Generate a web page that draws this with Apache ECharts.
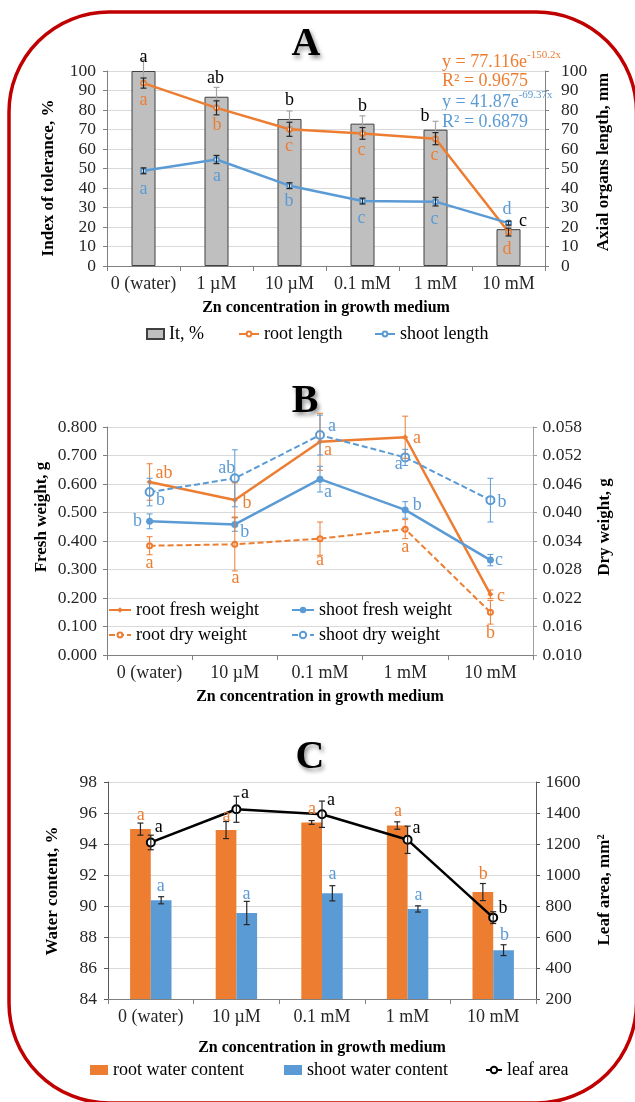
<!DOCTYPE html>
<html><head><meta charset="utf-8">
<script src="https://cdn.jsdelivr.net/npm/echarts@6/dist/echarts.min.js"></script>
<style>html,body{margin:0;padding:0;background:#fff}#c{width:635px;height:1102px}</style>
</head><body><div id="c"></div>
<script>
// ---------- Panel A ----------
const catsA = ['0 (water)', '1 µM', '10 µM', '0.1 mM', '1 mM', '10 mM'];
const itValues = [100, 86.8, 75.4, 73.0, 69.9, 18.9];
const itErr = [5.8, 4.8, 4.1, 4.0, 4.3, 1.5];
const rootLength = [93.8, 81.1, 70.1, 68.0, 65.3, 17.4];
const rootLengthErr = [2.6, 3.6, 3.6, 3.0, 3.1, 2.0];
const shootLength = [48.8, 54.6, 41.2, 33.3, 33.0, 22.0];
const shootLengthErr = [1.5, 2.1, 1.5, 1.5, 2.2, 1.0];
const itLetters = ['a', 'ab', 'b', 'b', 'b', 'c'];
const rootLengthLetters = ['a', 'b', 'c', 'c', 'c', 'd'];
const shootLengthLetters = ['a', 'a', 'b', 'c', 'c', 'd'];
const axisA = {min: 0, max: 100, interval: 10};
const axisA2 = {min: 0, max: 100, interval: 10};

// ---------- Panel B ----------
const catsB = ['0 (water)', '10 µM', '0.1 mM', '1 mM', '10 mM'];
const rootFresh = [0.607, 0.544, 0.748, 0.764, 0.213];
const rootFreshErr = [0.064, 0.06, 0.10, 0.074, 0.015];
const shootFresh = [0.469, 0.458, 0.617, 0.509, 0.333];
const shootFreshErr = [0.026, 0.024, 0.045, 0.029, 0.02];
const rootDry = [0.0330, 0.0333, 0.0345, 0.0365, 0.0190];
const rootDryErr = [0.0019, 0.0056, 0.0035, 0.0020, 0.0025];
const shootDry = [0.0443, 0.0472, 0.0563, 0.0516, 0.0426];
const shootDryErr = [0.0029, 0.0060, 0.0042, 0.0017, 0.0046];
const rootFreshLetters = ['ab', 'b', 'a', 'a', 'c'];
const shootFreshLetters = ['b', 'b', 'a', 'b', 'c'];
const rootDryLetters = ['a', 'a', 'a', 'a', 'b'];
const shootDryLetters = ['b', 'ab', 'a', 'a', 'b'];
const axisB = {min: 0, max: 0.8, interval: 0.1};
const axisB2 = {min: 0.010, max: 0.058, interval: 0.006};

// ---------- Panel C ----------
const catsC = ['0 (water)', '10 µM', '0.1 mM', '1 mM', '10 mM'];
const rootWater = [94.96, 94.9, 95.39, 95.19, 90.9];
const rootWaterErr = [0.39, 0.55, 0.12, 0.24, 0.55];
const shootWater = [90.37, 89.55, 90.82, 89.81, 87.15];
const shootWaterErr = [0.23, 0.75, 0.49, 0.2, 0.35];
const leafArea = [1210, 1424, 1392, 1227, 725];
const leafAreaErr = [47, 84, 85, 88, 38];
const rootWaterLetters = ['a', 'a', 'a', 'a', 'b'];
const shootWaterLetters = ['a', 'a', 'a', 'a', 'b'];
const leafLetters = ['a', 'a', 'a', 'a', 'b'];
const axisC = {min: 84, max: 98, interval: 2};
const axisC2 = {min: 200, max: 1600, interval: 200};

// ---------- layout / style (pixel offsets of letters from their data point) ----------
const offIt = [[0,-14],[-1,-18],[0,-19],[0,-17],[-10.5,-13],[14.5,-8]];
const offRootLen = [[0,17],[0.5,17],[-0.5,17],[-1,17],[-1,17],[-1.5,17]];
const offShootLen = [[0,18],[0.5,17],[-0.5,16],[-1,17.5],[-1,17.5],[-1.5,-14]];
const offRootFresh = [[14.4,-9],[12.2,3],[8,8],[11.8,1],[10.6,2]];
const offShootFresh = [[-12,0],[10,7.5],[8,13.5],[12,-5],[8.6,0]];
const offRootDry = [[0,17.5],[0.8,33.5],[0,22],[0,18],[0,21]];
const offShootDry = [[11,8.5],[-8,-10],[12,-9],[-6.4,7],[11.6,2]];
const offRootWater = [[-10,-13.5],[-10,-14],[-10,-13.5],[-9.5,-14],[-10,-18]];
const offShootWater = [[10,-13.5],[10,-19],[10.5,-19],[11,-14],[11.4,-15]];
const offLeaf = [[8,-15.5],[8.6,-16.5],[8.9,-14],[8.8,-12],[9.7,-9]];

const FONT = '"Liberation Serif", "Times New Roman", serif';
const ORANGE = '#ED7D31', BLUE = '#5B9BD5';
const AXC = '#808080';

function catAxis(gridIndex, data, nameGap) {
  return {
    type: 'category', gridIndex, data, boundaryGap: true,
    axisLine: {lineStyle: {color: AXC, width: 1}},
    axisTick: {show: true, length: 5, interval: 0, lineStyle: {color: AXC}},
    axisLabel: {color: '#262626', fontFamily: FONT, fontSize: 18, margin: 9, interval: 0},
    name: 'Zn concentration in growth medium', nameLocation: 'middle', nameGap,
    nameTextStyle: {fontFamily: FONT, fontSize: 16, fontWeight: 'bold', color: '#000'}
  };
}
function valAxis(gridIndex, rng, position, margin, digits, split, color) {
  return {
    type: 'value', gridIndex, min: rng.min, max: rng.max, interval: rng.interval, position,
    axisLine: {show: true, lineStyle: {color: color || AXC}},
    axisTick: {show: true, length: 4, lineStyle: {color: color || AXC}},
    axisLabel: {color: '#262626', fontFamily: FONT, fontSize: 17.5, margin,
      formatter: v => v.toFixed(digits)},
    splitLine: {show: split, lineStyle: {color: '#D9D9D9', width: 1}}
  };
}
function errSeries(xi, yi, vals, errs, color, dx, cap, lw) {
  return {
    type: 'custom', xAxisIndex: xi, yAxisIndex: yi, z: 6, silent: true,
    data: vals.map((v, i) => [i, v, errs[i]]),
    renderItem: (params, api) => {
      const i = api.value(0), v = api.value(1), e = api.value(2);
      const t = api.coord([i, v + e]), b = api.coord([i, v - e]);
      const x = t[0] + dx;
      const st = {stroke: color, lineWidth: lw};
      return {type: 'group', children: [
        {type: 'line', shape: {x1: x, y1: t[1], x2: x, y2: b[1]}, style: st},
        {type: 'line', shape: {x1: x - cap, y1: t[1], x2: x + cap, y2: t[1]}, style: st},
        {type: 'line', shape: {x1: x - cap, y1: b[1], x2: x + cap, y2: b[1]}, style: st}
      ]};
    }
  };
}
function letterSeries(xi, yi, vals, letters, offs, color) {
  return {
    type: 'custom', xAxisIndex: xi, yAxisIndex: yi, z: 7, silent: true,
    data: vals.map((v, i) => [i, v]),
    renderItem: (params, api) => {
      const p = api.coord([api.value(0), api.value(1)]);
      const o = offs[params.dataIndex];
      return {type: 'text', x: p[0] + o[0], y: p[1] + o[1],
        style: {text: letters[params.dataIndex], fill: color, fontFamily: FONT, fontSize: 18,
          align: 'center', verticalAlign: 'middle'}};
    }
  };
}
function leg(name, left, top, w, h, icon) {
  const l = {data: [name], left, top, padding: 0, itemWidth: w, itemHeight: h, selectedMode: false,
    textStyle: {fontFamily: FONT, fontSize: 18, color: '#000'}};
  if (icon) l.icon = icon;
  return l;
}
function vtext(text, x, y) {
  return {type: 'text', x, y, rotation: Math.PI / 2,
    style: {text, fontFamily: FONT, fontSize: 17, fontWeight: 'bold', fill: '#000',
      align: 'center', verticalAlign: 'middle'}};
}
function title(text, x, y) {
  return {type: 'text', x, y, style: {text, fontFamily: FONT, fontSize: 40, fontWeight: 'bold', fill: '#000',
    align: 'center', verticalAlign: 'middle', textShadowColor: 'rgba(0,0,0,0.45)', textShadowBlur: 4,
    textShadowOffsetX: 2, textShadowOffsetY: 3}};
}
function eq(main, sup, x, y, color) {
  return {type: 'text', x, y, style: {
    text: sup ? '{m|' + main + '}{s|' + sup + '}' : '{m|' + main + '}',
    verticalAlign: 'middle', align: 'left',
    rich: {
      m: {fontFamily: FONT, fontSize: 18, fill: color, lineHeight: 24},
      s: {fontFamily: FONT, fontSize: 11, fill: color, lineHeight: 12, verticalAlign: 'top'}
    }}};
}

const option = {
  animation: false,
  backgroundColor: '#fff',
  grid: [
    {left: 107, top: 71, width: 438, height: 195},
    {left: 107, top: 427, width: 426, height: 228},
    {left: 108, top: 782, width: 428, height: 217}
  ],
  xAxis: [catAxis(0, catsA, 34), catAxis(1, catsB, 34), catAxis(2, catsC, 41)],
  yAxis: [
    valAxis(0, axisA, 'left', 11, 0, true),
    valAxis(0, axisA2, 'right', 16, 0, false),
    valAxis(1, axisB, 'left', 10, 3, true),
    valAxis(1, axisB2, 'right', 9.5, 3, false, '#A0A0A0'),
    valAxis(2, axisC, 'left', 11, 0, true, '#595959'),
    valAxis(2, axisC2, 'right', 9.5, 0, false, '#595959')
  ],
  legend: [
    leg('It, %', 146, 325, 17, 10, 'rect'),
    leg('root length', 238, 325, 20, 6),
    leg('shoot length', 374, 325, 20, 6),
    leg('root fresh weight', 108, 601, 22, 7),
    leg('shoot fresh weight', 291, 601, 22, 8),
    leg('root dry weight', 108, 626, 22, 6),
    leg('shoot dry weight', 291, 626, 22, 8),
    leg('root water content', 90, 1061, 18, 10, 'rect'),
    leg('shoot water content', 284, 1061, 18, 10, 'rect'),
    leg('leaf area', 485, 1061, 16, 8)
  ],
  series: [
    // A
    {name: 'It, %', type: 'bar', xAxisIndex: 0, yAxisIndex: 0, data: itValues, barWidth: 24,
      itemStyle: {color: '#BFBFBF', borderColor: '#404040', borderWidth: 1}},
    {name: 'root length', type: 'line', xAxisIndex: 0, yAxisIndex: 1, data: rootLength,
      symbol: 'emptyCircle', symbolSize: 5, z: 4,
      lineStyle: {color: ORANGE, width: 2.5}, itemStyle: {color: ORANGE, borderWidth: 1.2}},
    {name: 'shoot length', type: 'line', xAxisIndex: 0, yAxisIndex: 1, data: shootLength,
      symbol: 'emptyCircle', symbolSize: 5, z: 4,
      lineStyle: {color: BLUE, width: 2.5}, itemStyle: {color: BLUE, borderWidth: 1.2}},
    errSeries(0, 0, itValues, itErr, '#A6A6A6', 0, 3, 1.2),
    errSeries(0, 1, rootLength, rootLengthErr, '#262626', 0, 3, 1.2),
    errSeries(0, 1, shootLength, shootLengthErr, '#262626', 0, 3, 1.2),
    letterSeries(0, 0, itValues, itLetters, offIt, '#000'),
    letterSeries(0, 1, rootLength, rootLengthLetters, offRootLen, ORANGE),
    letterSeries(0, 1, shootLength, shootLengthLetters, offShootLen, BLUE),
    // B
    {name: 'root fresh weight', type: 'line', xAxisIndex: 1, yAxisIndex: 2, data: rootFresh,
      symbol: 'diamond', symbolSize: 6, lineStyle: {color: ORANGE, width: 2.5}, itemStyle: {color: ORANGE}},
    {name: 'shoot fresh weight', type: 'line', xAxisIndex: 1, yAxisIndex: 2, data: shootFresh,
      symbol: 'circle', symbolSize: 7, lineStyle: {color: BLUE, width: 2.5}, itemStyle: {color: BLUE}},
    {name: 'root dry weight', type: 'line', xAxisIndex: 1, yAxisIndex: 3, data: rootDry,
      symbol: 'emptyCircle', symbolSize: 5, lineStyle: {color: ORANGE, width: 2, type: [6, 3]},
      itemStyle: {color: ORANGE, borderWidth: 1}},
    {name: 'shoot dry weight', type: 'line', xAxisIndex: 1, yAxisIndex: 3, data: shootDry,
      symbol: 'emptyCircle', symbolSize: 8, lineStyle: {color: BLUE, width: 2, type: [6, 3]},
      itemStyle: {color: BLUE, borderWidth: 1}},
    errSeries(1, 2, rootFresh, rootFreshErr, ORANGE, 0, 3, 1),
    errSeries(1, 2, shootFresh, shootFreshErr, BLUE, 0, 3, 1),
    errSeries(1, 3, rootDry, rootDryErr, ORANGE, 0, 3, 1),
    errSeries(1, 3, shootDry, shootDryErr, BLUE, 0, 3, 1),
    letterSeries(1, 2, rootFresh, rootFreshLetters, offRootFresh, ORANGE),
    letterSeries(1, 2, shootFresh, shootFreshLetters, offShootFresh, BLUE),
    letterSeries(1, 3, rootDry, rootDryLetters, offRootDry, ORANGE),
    letterSeries(1, 3, shootDry, shootDryLetters, offShootDry, BLUE),
    // C
    {name: 'root water content', type: 'bar', xAxisIndex: 2, yAxisIndex: 4, data: rootWater,
      barWidth: 20.7, barGap: '0%', itemStyle: {color: ORANGE}},
    {name: 'shoot water content', type: 'bar', xAxisIndex: 2, yAxisIndex: 4, data: shootWater,
      barWidth: 20.7, barGap: '0%', itemStyle: {color: BLUE}},
    {name: 'leaf area', type: 'line', xAxisIndex: 2, yAxisIndex: 5, data: leafArea, z: 4,
      symbol: 'emptyCircle', symbolSize: 8, lineStyle: {color: '#000', width: 2.5},
      itemStyle: {color: '#000', borderWidth: 1}},
    errSeries(2, 4, rootWater, rootWaterErr, '#262626', -10.35, 3, 1.2),
    errSeries(2, 4, shootWater, shootWaterErr, '#262626', 10.35, 3, 1.2),
    errSeries(2, 5, leafArea, leafAreaErr, '#262626', 0, 3, 1.2),
    letterSeries(2, 4, rootWater, rootWaterLetters, offRootWater, ORANGE),
    letterSeries(2, 4, shootWater, shootWaterLetters, offShootWater, BLUE),
    letterSeries(2, 5, leafArea, leafLetters, offLeaf, '#000')
  ],
  graphic: [
    {type: 'rect', shape: {x: 9, y: 12, width: 627.5, height: 1091, r: 100}, z: 100,
      style: {fill: 'none', stroke: '#C00000', lineWidth: 3.5}},
    title('A', 306, 45), title('B', 305, 402), title('C', 310, 758),
    eq('y = 77.116e', '-150.2x', 442, 62, ORANGE),
    eq('R² = 0.9675', null, 442, 81, ORANGE),
    eq('y = 41.87e', '-69.37x', 442, 102, BLUE),
    eq('R² = 0.6879', null, 442, 122, BLUE),
    vtext('Index of tolerance, %', 49, 178),
    vtext('Axial organs length, mm', 604, 162),
    vtext('Fresh weight, g', 42, 517),
    vtext('Dry weight, g', 605, 527),
    vtext('Water content, %', 53, 891),
    vtext('Leaf area, mm²', 605, 890)
  ]
};
const chart = echarts.init(document.getElementById('c'));
chart.setOption(option);
</script></body></html>
